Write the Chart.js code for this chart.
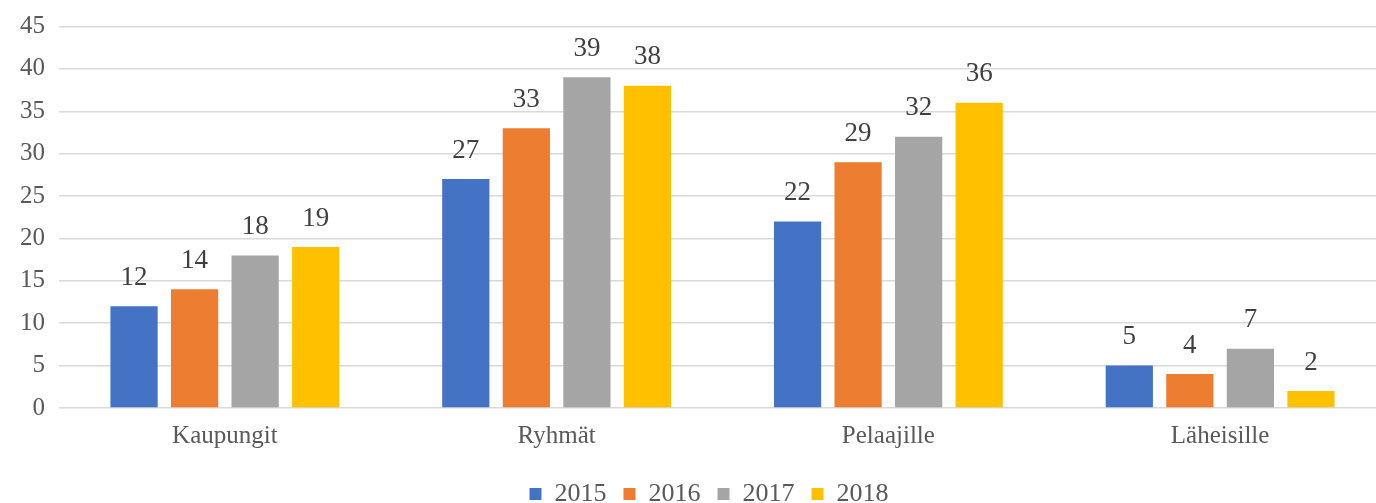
<!DOCTYPE html>
<html>
<head>
<meta charset="utf-8">
<script src="https://cdn.jsdelivr.net/npm/chart.js@4"></script>
<style>
  html, body { margin: 0; padding: 0; background: #fff; overflow: hidden; }
  /* the original chart runs a little past the right edge of the crop */
  #wrap { width: 1386px; height: 503px; }
</style>
</head>
<body>
<div id="wrap"><canvas id="chart"></canvas></div>
<script>
// data
const categories = ["Kaupungit", "Ryhmät", "Pelaajille", "Läheisille"];
const years = ["2015", "2016", "2017", "2018"];
const values2015 = [12, 27, 22, 5];
const values2016 = [14, 33, 29, 4];
const values2017 = [18, 39, 32, 7];
const values2018 = [19, 38, 36, 2];
const yTicks = [0, 5, 10, 15, 20, 25, 30, 35, 40, 45];

const colors = ["#4472c4", "#ed7d31", "#a5a5a5", "#ffc000"];
const FONT = "'Liberation Serif', 'DejaVu Serif', serif";

// simple value labels above each bar (no datalabels plugin available)
const barLabels = {
  id: "barLabels",
  afterDatasetsDraw(chart) {
    const ctx = chart.ctx;
    ctx.save();
    ctx.font = "27px " + FONT;
    ctx.fillStyle = "#404040";
    ctx.textAlign = "center";
    ctx.textBaseline = "bottom";
    chart.data.datasets.forEach((ds, i) => {
      chart.getDatasetMeta(i).data.forEach((bar, j) => {
        ctx.fillText(String(ds.data[j]), bar.x, bar.y - 15);
      });
    });
    ctx.restore();
  },
};

// nudge the legend to where it sits in the reference
const legendShift = {
  id: "legendShift",
  afterLayout(chart) {
    const lg = chart.legend;
    if (!lg) return;
    lg.left += 13;
    lg.right += 13;
    lg.top += 8;
    lg.bottom += 8;
  },
};

const seriesValues = [values2015, values2016, values2017, values2018];

new Chart(document.getElementById("chart"), {
  type: "bar",
  data: {
    labels: categories,
    datasets: years.map((y, i) => ({
      label: y,
      data: seriesValues[i],
      backgroundColor: colors[i],
      barPercentage: 0.78,
      categoryPercentage: 0.73,
    })),
  },
  options: {
    responsive: true,
    maintainAspectRatio: false,
    animation: false,
    layout: { padding: { top: 5, right: 0, left: 6, bottom: -6 } },
    plugins: {
      tooltip: { enabled: false },
      legend: {
        position: "bottom",
        labels: {
          boxWidth: 12,
          boxHeight: 12,
          padding: 17,
          color: "#595959",
          font: { family: FONT, size: 26 },
        },
      },
    },
    scales: {
      x: {
        grid: { display: false },
        border: { display: false },
        ticks: { color: "#595959", font: { family: FONT, size: 25 }, padding: 5 },
      },
      y: {
        min: 0,
        max: 45,
        afterBuildTicks: (axis) => { axis.ticks = yTicks.map((v) => ({ value: v })); },
        grid: { color: "#d9d9d9", lineWidth: 1.5, drawTicks: false },
        border: { display: false },
        ticks: { color: "#595959", font: { family: FONT, size: 25, lineHeight: 1 }, padding: 14 },
      },
    },
  },
  plugins: [barLabels, legendShift],
});
</script>
</body>
</html>
